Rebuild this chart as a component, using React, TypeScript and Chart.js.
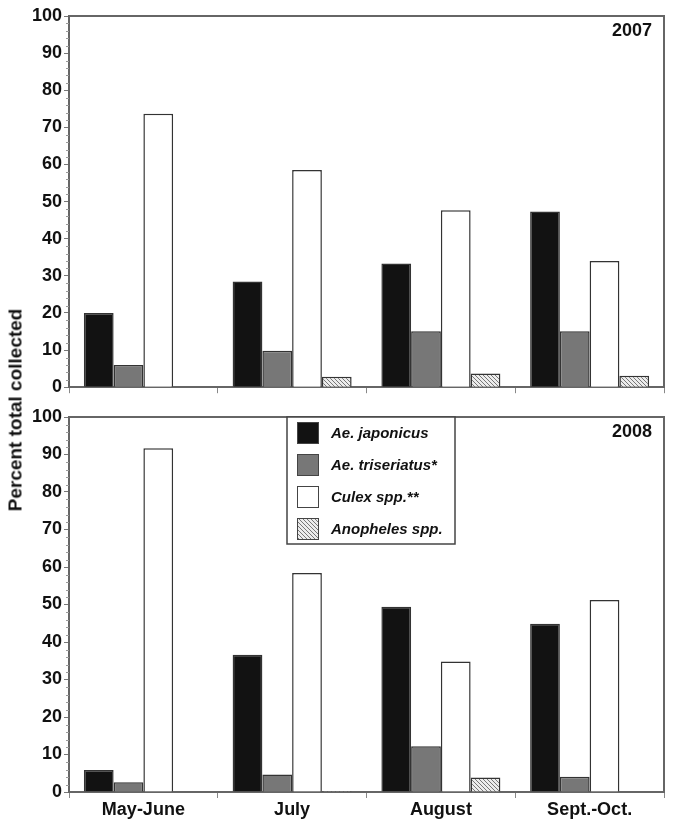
import React, { useEffect, useRef } from 'react';
import { Chart, registerables } from 'chart.js';

Chart.register(...registerables);

const categories = ['May-June', 'July', 'August', 'Sept.-Oct.'];
const speciesLabels = ['Ae. japonicus', 'Ae. triseriatus*', 'Culex spp.**', 'Anopheles spp.'];
const yearLabels = ['2007', '2008'];

const japonicus2007 = [20.0, 28.5, 33.3, 47.3];
const triseriatus2007 = [6.0, 9.8, 15.1, 15.1];
const culex2007 = [73.7, 58.5, 47.7, 34.0];
const anopheles2007 = [0, 2.8, 3.7, 3.1];

const japonicus2008 = [5.9, 36.6, 49.4, 44.9];
const triseriatus2008 = [2.6, 4.7, 12.2, 4.1];
const culex2008 = [91.7, 58.4, 34.8, 51.2];
const anopheles2008 = [0, 0.3, 3.9, 0];

const yMin = 0;
const yMax = 100;
const yStep = 10;
const yMinorStep = 2;

const FONT = '"Liberation Sans", Arial, Helvetica, sans-serif';
const AXIS_COLOR = '#666';

function makeHatch(): CanvasPattern | string {
  const c = document.createElement('canvas');
  c.width = 4;
  c.height = 4;
  const g = c.getContext('2d');
  if (!g) return '#ccc';
  g.fillStyle = '#ececec';
  g.fillRect(0, 0, 4, 4);
  g.strokeStyle = '#6a6a6a';
  g.lineWidth = 0.9;
  g.beginPath();
  g.moveTo(-1, -1);
  g.lineTo(5, 5);
  g.moveTo(-1, 3);
  g.lineTo(1, 5);
  g.moveTo(3, -1);
  g.lineTo(5, 1);
  g.stroke();
  const p = g.createPattern(c, 'repeat');
  return p || '#ccc';
}

const fills = (hatch: CanvasPattern | string) => ['#121212', '#777777', '#ffffff', hatch];

const framePlugin = {
  id: 'frame',
  afterDatasetsDraw(chart: any, _args: any, opts: any) {
    const { ctx, chartArea } = chart;
    const y = chart.scales.y;
    ctx.save();
    ctx.strokeStyle = '#999';
    ctx.lineWidth = 1;
    for (let v = yMin; v <= yMax; v += yMinorStep) {
      if (v % yStep === 0) continue;
      const py = Math.round(y.getPixelForValue(v)) + 0.5;
      ctx.beginPath();
      ctx.moveTo(chartArea.left - 3, py);
      ctx.lineTo(chartArea.left, py);
      ctx.stroke();
    }
    ctx.strokeStyle = AXIS_COLOR;
    ctx.lineWidth = 2;
    ctx.beginPath();
    ctx.moveTo(chartArea.left, chartArea.top);
    ctx.lineTo(chartArea.right, chartArea.top);
    ctx.lineTo(chartArea.right, chartArea.bottom);
    ctx.stroke();
    ctx.fillStyle = '#111';
    ctx.font = `bold 18px ${FONT}`;
    ctx.textAlign = 'right';
    ctx.textBaseline = 'middle';
    ctx.fillText(opts.year, chartArea.right - 12, chartArea.top + 15);
    if (opts.legend) {
      const bx = chartArea.left + 218;
      const by = chartArea.top;
      const bw = 168;
      const bh = 127;
      ctx.fillStyle = '#fff';
      ctx.fillRect(bx, by, bw, bh);
      ctx.strokeStyle = '#444';
      ctx.lineWidth = 1.5;
      ctx.strokeRect(bx, by, bw, bh);
      chart.data.datasets.forEach((ds: any, i: number) => {
        const cy = by + 16 + i * 32;
        ctx.fillStyle = ds.backgroundColor;
        ctx.fillRect(bx + 10, cy - 11, 22, 22);
        ctx.strokeStyle = '#444';
        ctx.lineWidth = 1;
        ctx.strokeRect(bx + 10.5, cy - 10.5, 21, 21);
        ctx.fillStyle = '#111';
        ctx.font = `italic bold 15px ${FONT}`;
        ctx.textAlign = 'left';
        ctx.textBaseline = 'middle';
        ctx.fillText(ds.label, bx + 44, cy + 1);
      });
    }
    ctx.restore();
  },
};

function buildConfig(
  series: number[][],
  year: string,
  showXLabels: boolean,
  legend: boolean,
  padTop: number,
  xHeight: number,
  hatch: CanvasPattern | string
): any {
  const f = fills(hatch);
  return {
    type: 'bar',
    data: {
      labels: categories,
      datasets: series.map((d, i) => ({
        label: speciesLabels[i],
        data: d,
        backgroundColor: f[i],
        borderColor: '#333',
        borderWidth: (c: any) => (c.raw === 0 ? 0 : 1.5),
        categoryPercentage: 0.8,
        barPercentage: 1.0,
      })),
    },
    options: {
      animation: false,
      responsive: false,
      maintainAspectRatio: false,
      layout: { padding: { top: padTop, left: 0, right: 11, bottom: 0 } },
      plugins: {
        legend: { display: false },
        tooltip: { enabled: false },
        frame: { year, legend },
      },
      scales: {
        x: {
          type: 'category',
          offset: true,
          grid: {
            display: true,
            offset: true,
            drawOnChartArea: false,
            drawTicks: true,
            tickLength: 6,
            color: '#888',
            lineWidth: 1,
          },
          border: { display: true, color: AXIS_COLOR, width: 2 },
          ticks: {
            display: showXLabels,
            color: '#111',
            font: { family: FONT, size: 18, weight: 'bold' },
            padding: 1,
            maxRotation: 0,
          },
          afterFit: (s: any) => {
            s.height = xHeight;
          },
        },
        y: {
          min: yMin,
          max: yMax,
          ticks: {
            stepSize: yStep,
            color: '#111',
            font: { family: FONT, size: 18, weight: 'bold' },
            padding: 2,
          },
          grid: {
            display: true,
            drawOnChartArea: false,
            drawTicks: true,
            tickLength: 5,
            color: '#777',
            lineWidth: 1,
          },
          border: { display: true, color: AXIS_COLOR, width: 2 },
          afterFit: (s: any) => {
            s.width = 69;
          },
        },
      },
    },
    plugins: [framePlugin],
  };
}

export default function App() {
  const topRef = useRef<HTMLCanvasElement>(null);
  const botRef = useRef<HTMLCanvasElement>(null);

  useEffect(() => {
    const hatch = makeHatch();
    const c1 = new Chart(
      topRef.current as HTMLCanvasElement,
      buildConfig(
        [japonicus2007, triseriatus2007, culex2007, anopheles2007],
        yearLabels[0],
        false,
        false,
        16,
        11,
        hatch
      )
    );
    const c2 = new Chart(
      botRef.current as HTMLCanvasElement,
      buildConfig(
        [japonicus2008, triseriatus2008, culex2008, anopheles2008],
        yearLabels[1],
        true,
        true,
        17,
        32,
        hatch
      )
    );
    return () => {
      c1.destroy();
      c2.destroy();
    };
  }, []);

  return (
    <div
      style={{
        position: 'absolute',
        left: 0,
        top: 0,
        width: 675,
        height: 824,
        background: '#fff',
        overflow: 'hidden',
      }}
    >
      <canvas
        ref={topRef}
        width={675}
        height={400}
        style={{ position: 'absolute', left: 0, top: 0, width: 675, height: 400 }}
      />
      <canvas
        ref={botRef}
        width={675}
        height={424}
        style={{ position: 'absolute', left: 0, top: 400, width: 675, height: 424 }}
      />
      <div
        style={{
          position: 'absolute',
          left: 15,
          top: 410,
          transform: 'translate(-50%, -50%) rotate(-90deg)',
          whiteSpace: 'nowrap',
          fontFamily: FONT,
          fontWeight: 'bold',
          fontSize: 19,
          color: '#111',
          lineHeight: 1,
        }}
      >
        Percent total collected
      </div>
    </div>
  );
}
